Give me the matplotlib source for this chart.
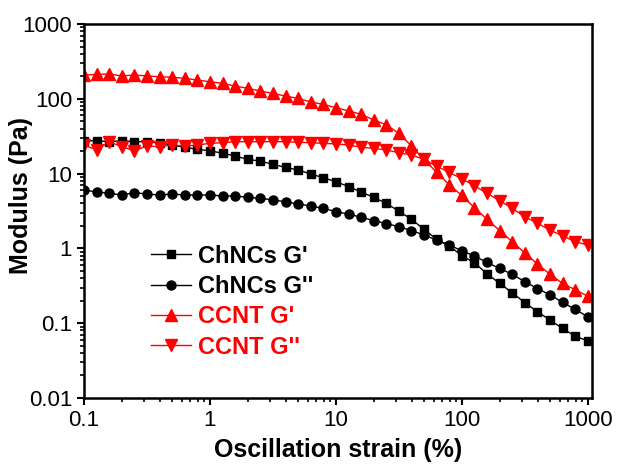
import numpy as np
import matplotlib
matplotlib.use('Agg')
import matplotlib.pyplot as plt
from matplotlib.ticker import LogLocator, FixedLocator, FixedFormatter

plt.rcParams['font.family'] = ['Liberation Sans', 'DejaVu Sans']

# strain sweep, 10 points per decade
strain = [0.1, 0.126, 0.158, 0.2, 0.251, 0.316, 0.398, 0.501, 0.631, 0.794,
          1.0, 1.26, 1.58, 2.0, 2.51, 3.16, 3.98, 5.01, 6.31, 7.94,
          10.0, 12.6, 15.8, 20.0, 25.1, 31.6, 39.8, 50.1, 63.1, 79.4,
          100.0, 126, 158, 200, 251, 316, 398, 501, 631, 794, 1000]

chncs_g1 = [27.5, 27.5, 26.7, 27.5, 26.7, 26.7, 25.9, 24.1, 22.5, 21.1,
            20.2, 18.7, 17.2, 15.5, 14.7, 13.3, 12.1, 11.2, 9.9, 8.8,
            7.8, 6.7, 5.7, 4.8, 4.0, 3.15, 2.45, 1.80, 1.32, 1.08,
            0.80, 0.64, 0.46, 0.34, 0.256, 0.188, 0.143, 0.110, 0.085, 0.067, 0.058]

chncs_g2 = [6.0, 5.7, 5.45, 5.18, 5.56, 5.33, 5.18, 5.33, 5.18, 5.18,
            5.18, 5.02, 5.02, 4.82, 4.68, 4.44, 4.21, 3.93, 3.69, 3.44,
            3.10, 2.88, 2.61, 2.35, 2.15, 1.95, 1.73, 1.51, 1.29, 1.11,
            0.93, 0.79, 0.65, 0.54, 0.45, 0.36, 0.29, 0.24, 0.19, 0.153, 0.122]

ccnt_g1 = [208, 212, 215, 202, 208, 202, 197, 194, 188, 178,
           169, 161, 148, 138, 127, 118, 109, 101, 91, 84,
           76, 69, 62, 52, 45, 34.6, 23.4, 15.5, 10.4, 7.1,
           5.1, 3.5, 2.45, 1.73, 1.23, 0.87, 0.62, 0.45, 0.34, 0.28, 0.23]

ccnt_g2 = [24.1, 20.7, 26.7, 22.9, 20.2, 23.4, 22.9, 24.1, 23.4, 24.1,
           25.4, 25.9, 26.7, 26.7, 26.7, 26.7, 26.7, 26.2, 25.9, 25.4,
           24.9, 24.1, 22.5, 21.8, 20.7, 19.0, 17.7, 15.5, 12.6, 10.4,
           8.5, 6.9, 5.45, 4.35, 3.44, 2.65, 2.17, 1.76, 1.47, 1.23, 1.11]

x_ticks = [0.1, 1, 10, 100, 1000]
x_labels = ['0.1', '1', '10', '100', '1000']
y_ticks = [0.01, 0.1, 1, 10, 100, 1000]
y_labels = ['0.01', '0.1', '1', '10', '100', '1000']

fig = plt.figure(figsize=(6.17, 4.68), dpi=100)
ax = fig.add_axes([84 / 617, 1 - 398 / 468, 508 / 617, 374 / 468])

ax.plot(strain, chncs_g1, '-s', color='black', lw=1, ms=6, label="ChNCs G'")
ax.plot(strain, chncs_g2, '-o', color='black', lw=1, ms=6.5, label="ChNCs G''")
ax.plot(strain, ccnt_g1, '-^', color='red', lw=1, ms=8, label="CCNT G'")
ax.plot(strain, ccnt_g2, '-v', color='red', lw=1, ms=8, label="CCNT G''")

ax.set_xscale('log')
ax.set_yscale('log')
ax.set_xlim(0.1, 1080)
ax.set_ylim(0.01, 1000)

ax.xaxis.set_major_locator(FixedLocator(x_ticks))
ax.xaxis.set_major_formatter(FixedFormatter(x_labels))
ax.yaxis.set_major_locator(FixedLocator(y_ticks))
ax.yaxis.set_major_formatter(FixedFormatter(y_labels))
ax.xaxis.set_minor_locator(LogLocator(base=10, subs=np.arange(2, 10), numticks=20))
ax.yaxis.set_minor_locator(LogLocator(base=10, subs=np.arange(2, 10), numticks=20))

ax.tick_params(which='major', direction='out', length=5, width=1.5, labelsize=16)
ax.tick_params(which='minor', direction='out', length=3, width=1.2)
ax.tick_params(top=False, right=False)
for s in ax.spines.values():
    s.set_linewidth(1.8)

ax.set_xlabel('Oscillation strain (%)', fontsize=18, fontweight='bold')
ax.xaxis.set_label_coords(0.5, -(450 - 398) / 374)
ax.xaxis.label.set_va('center')
ax.set_ylabel('Modulus (Pa)', fontsize=18, fontweight='bold')
ax.yaxis.set_label_coords(-(84 - 21) / 508, 1 - (196 - 24) / 374)
ax.yaxis.label.set_va('center')

leg = ax.legend(loc='upper left', bbox_to_anchor=(0.132, 0.41), frameon=False,
                handlelength=1.7, handletextpad=0.3,
                labelspacing=0.31, borderpad=0, borderaxespad=0,
                prop={'weight': 'bold', 'size': 17})
for t, c in zip(leg.get_texts(), ['black', 'black', 'red', 'red']):
    t.set_color(c)

fig.savefig('out.png', dpi=100)
